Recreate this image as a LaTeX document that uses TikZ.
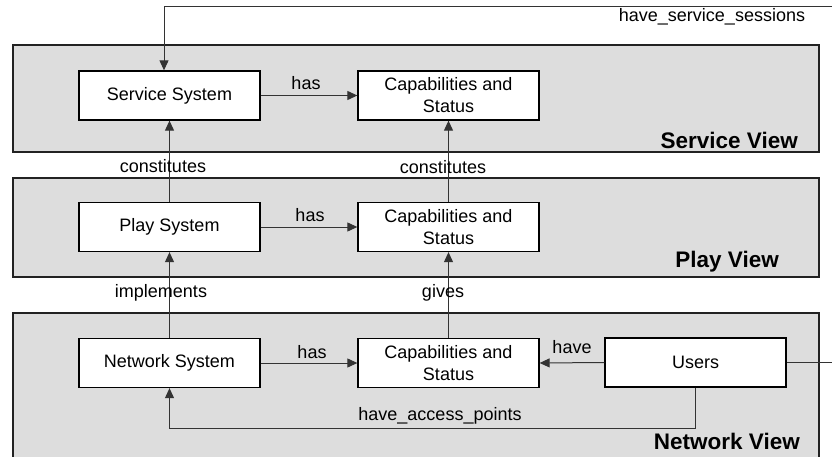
\documentclass[tikz,border=0pt]{standalone}
\usepackage{fontspec}
\setmainfont{Liberation Sans}
\usetikzlibrary{arrows.meta}
\definecolor{panelfill}{HTML}{DDDDDD}
\definecolor{panelline}{HTML}{222222}
\definecolor{connline}{HTML}{333333}
\begin{document}
\begin{tikzpicture}[x=1pt,y=-1pt,
  panel/.style={draw=panelline,line width=1.6pt,fill=panelfill},
  entity/.style={draw=black,line width=1.3pt,fill=white,minimum width=181pt,
    minimum height=49pt,inner sep=0pt,align=center,
    font=\fontsize{18}{22}\selectfont},
  lbl/.style={inner sep=0pt,font=\fontsize{18}{22}\selectfont},
  viewname/.style={inner sep=0pt,anchor=east,font=\fontsize{22.5}{26}\selectfont\bfseries},
  conn/.style={draw=connline,line width=1pt},
  arr/.style={conn,-{Triangle[length=10pt,width=9pt]}}]
\useasboundingbox[fill=white] (0,0) rectangle (832,457);

% layer panels
\draw[panel] (13,45) rectangle (819,152);
\draw[panel] (13,178) rectangle (819,277);
\draw[panel] (13,313) rectangle (819,475);

\node[viewname] (svView) at (798,140) {Service View};
\node[viewname] (plView) at (779,262) {Play View};
\node[viewname] (nwView) at (800,441) {Network View};

% entities
\node[entity] (svc) at (169.5,95.5) {Service System};
\node[entity] (svcCap) at (448.5,95.5) {Capabilities and\\Status};
\node[entity] (ply) at (169.5,227) {Play System};
\node[entity] (plyCap) at (448.5,227) {Capabilities and\\Status};
\node[entity] (net) at (169.5,363) {Network System};
\node[entity] (netCap) at (448.5,363) {Capabilities and\\Status};
\node[entity] (usr) at (695.5,362.5) {Users};

% relations inside each layer
\draw[arr] (svc.east) -- (svcCap.west);
\node[lbl] (hasS) at (306,83) {has};
\draw[arr] (ply.east) -- (plyCap.west);
\node[lbl] (hasP) at (310,215) {has};
\draw[arr] (net.east) -- (netCap.west);
\node[lbl] (hasN) at (312,352) {has};
\draw[arr] (usr.west) -- (netCap.east);
\node[lbl] (haveU) at (572,347) {have};

% relations between layers
\draw[arr] (ply.north) -- (svc.south);
\node[lbl] (constL) at (163,166) {constitutes};
\draw[arr] (plyCap.north) -- (svcCap.south);
\node[lbl] (constR) at (443,167) {constitutes};
\draw[arr] (net.north) -- (ply.south);
\node[lbl] (impl) at (161,293) {implements};
\draw[arr] (netCap.north) -- (plyCap.south);
\node[lbl] (gives) at (443,293) {gives};

% users to network access points
\coordinate (accL) at (169.5,428.5);
\draw[arr] (usr.south) |- (accL) -- (net.south);
\node[lbl] (acc) at (440,416) {have\_access\_points};

% users to service sessions, routed round the top
\coordinate (loopR) at (836,7);
\coordinate (loopL) at (164,7);
\draw[arr] (usr.east) -| (loopR) -- (loopL) -- (loopL |- svc.north);
\node[lbl] (sess) at (712,17) {have\_service\_sessions};
\end{tikzpicture}
\end{document}
